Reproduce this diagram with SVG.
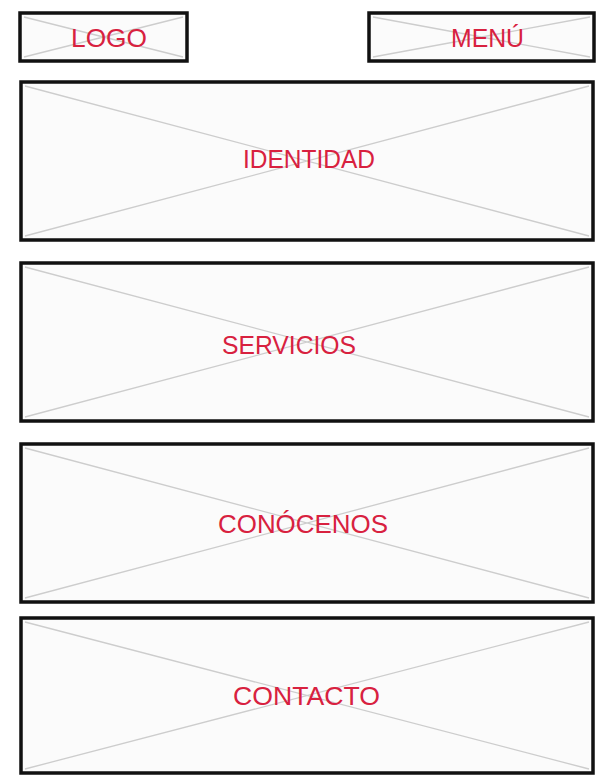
<svg xmlns="http://www.w3.org/2000/svg" width="598" height="775" viewBox="0 0 598 775">
<style>
.box{fill:#fbfbfb;stroke:#111;stroke-width:3.5}
.x{stroke:#cdcdcd;stroke-width:1.3;fill:none}
.t{font-family:"Liberation Sans",Arial,sans-serif;font-size:25px;fill:#d8213f;text-anchor:middle}
</style>
<rect width="598" height="775" fill="#ffffff"/>
<g id="logo">
<rect class="box" x="20" y="13" width="167" height="48"/>
<path class="x" d="M24 17 L183 57 M24 57 L183 17"/>
<text class="t" x="109" y="47" textLength="76" lengthAdjust="spacingAndGlyphs">LOGO</text>
</g>
<g id="menu">
<rect class="box" x="369" y="13" width="225" height="48"/>
<path class="x" d="M373 17 L590 57 M373 57 L590 17"/>
<text class="t" x="487.5" y="47" textLength="73" lengthAdjust="spacingAndGlyphs">MENÚ</text>
</g>
<g id="identidad">
<rect class="box" x="21" y="82" width="572" height="158"/>
<path class="x" d="M25 86 L589 236 M25 236 L589 86"/>
<text class="t" x="309" y="168" textLength="132" lengthAdjust="spacingAndGlyphs">IDENTIDAD</text>
</g>
<g id="servicios">
<rect class="box" x="21" y="263" width="572" height="158"/>
<path class="x" d="M25 267 L589 417 M25 417 L589 267"/>
<text class="t" x="289" y="354" textLength="134" lengthAdjust="spacingAndGlyphs">SERVICIOS</text>
</g>
<g id="conocenos">
<rect class="box" x="21" y="444" width="572" height="158"/>
<path class="x" d="M25 448 L589 598 M25 598 L589 448"/>
<text class="t" x="303" y="533" textLength="170" lengthAdjust="spacingAndGlyphs">CONÓCENOS</text>
</g>
<g id="contacto">
<rect class="box" x="21" y="618" width="572" height="155"/>
<path class="x" d="M25 622 L589 769 M25 769 L589 622"/>
<text class="t" x="306.5" y="705" textLength="147" lengthAdjust="spacingAndGlyphs">CONTACTO</text>
</g>
<g id="connectors"></g>
</svg>
